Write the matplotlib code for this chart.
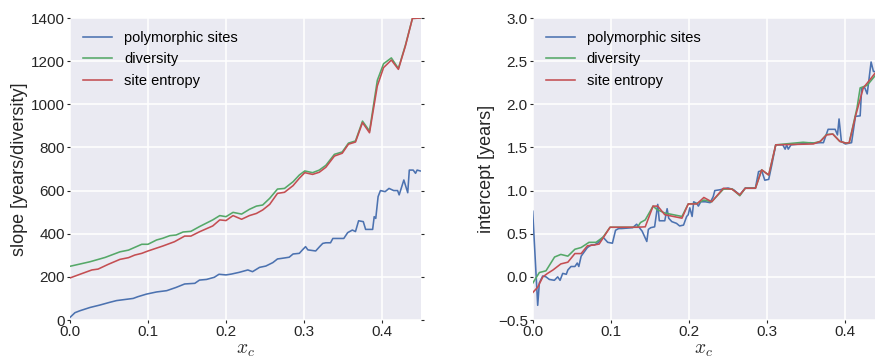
import matplotlib
matplotlib.use("Agg")
import matplotlib.pyplot as plt

# ---------------- data: left panel (slope) ----------------
slope_poly_x = [0.0, 0.0064, 0.0128, 0.0256, 0.038, 0.051, 0.0597, 0.0725, 0.081, 0.087, 0.098,
                0.111, 0.124, 0.136, 0.147, 0.16, 0.166, 0.175, 0.185, 0.191, 0.2, 0.207, 0.217,
                0.228, 0.234, 0.243, 0.251, 0.26, 0.266, 0.272, 0.281, 0.286, 0.294, 0.298, 0.302,
                0.305, 0.315, 0.32, 0.324, 0.328, 0.334, 0.337, 0.351, 0.356, 0.362, 0.366, 0.37,
                0.376, 0.379, 0.388, 0.39, 0.392, 0.395, 0.398, 0.404, 0.409, 0.415, 0.42, 0.422,
                0.426, 0.428, 0.433, 0.435, 0.44, 0.443, 0.445, 0.449]
slope_poly = [12, 34, 43, 58, 69, 82, 90, 96, 100, 108, 120,
              130, 136, 151, 167, 170, 185, 188, 198, 212, 209, 213, 221,
              232, 224, 244, 250, 266, 283, 286, 291, 306, 309, 325, 340,
              325, 320, 340, 355, 358, 358, 378, 378, 405, 417, 410, 460,
              456, 420, 420, 479, 471, 572, 600, 595, 610, 600, 600, 580,
              626, 649, 590, 695, 695, 680, 695, 691]

slope_div_x = [0.0, 0.0256, 0.045, 0.064, 0.075, 0.092, 0.1, 0.111, 0.119, 0.128, 0.136, 0.145,
               0.155, 0.166, 0.183, 0.192, 0.2, 0.209, 0.22, 0.23, 0.239, 0.247, 0.256, 0.266,
               0.275, 0.286, 0.294, 0.301, 0.311, 0.3196, 0.328, 0.339, 0.349, 0.357, 0.366,
               0.375, 0.384, 0.394, 0.402, 0.412, 0.421, 0.430, 0.439, 0.45]
slope_div = [249, 270, 290, 316, 324, 351, 351, 371, 379, 391, 394, 408,
             411, 433, 464, 484, 479, 499, 491, 513, 528, 533, 564, 607,
             610, 641, 672, 691, 683, 695, 717, 768, 779, 820, 830,
             922, 876, 1111, 1188, 1215, 1166, 1274, 1398, 1400]

slope_ent_x = [0.0, 0.0128, 0.028, 0.036, 0.049, 0.064, 0.075, 0.083, 0.092, 0.1, 0.119, 0.134,
               0.147, 0.155, 0.166, 0.183, 0.192, 0.2, 0.209, 0.22, 0.23, 0.239, 0.247, 0.256,
               0.266, 0.275, 0.286, 0.294, 0.301, 0.311, 0.3196, 0.328, 0.339, 0.349, 0.357,
               0.366, 0.375, 0.384, 0.394, 0.402, 0.412, 0.421, 0.430, 0.439, 0.45]
slope_ent = [195, 212, 232, 236, 258, 281, 289, 301, 309, 320, 343, 363,
             389, 389, 409, 436, 464, 461, 484, 467, 484, 494, 510, 536,
             587, 592, 623, 657, 683, 675, 685, 708, 760, 773, 815,
             825, 915, 868, 1085, 1170, 1205, 1162, 1270, 1398, 1400]

# ---------------- data: right panel (intercept) ----------------
int_poly_x = [0.0, 0.0064, 0.0085, 0.0128, 0.017, 0.0213, 0.0277, 0.032, 0.035, 0.0384, 0.043,
              0.045, 0.049, 0.054, 0.057, 0.059, 0.062, 0.066, 0.070, 0.075, 0.079, 0.083, 0.090,
              0.096, 0.102, 0.106, 0.110, 0.114, 0.128, 0.133, 0.14, 0.146, 0.148, 0.151, 0.156,
              0.160, 0.162, 0.169, 0.172, 0.174, 0.178, 0.184, 0.188, 0.193, 0.197, 0.199, 0.201,
              0.204, 0.206, 0.21, 0.212, 0.215, 0.221, 0.227, 0.231, 0.233, 0.240, 0.244, 0.25,
              0.257, 0.265, 0.272, 0.28, 0.285, 0.289, 0.293, 0.297, 0.302, 0.306, 0.311, 0.320,
              0.323, 0.325, 0.327, 0.3305, 0.342, 0.355, 0.361, 0.368, 0.372, 0.378, 0.387, 0.390,
              0.392, 0.395, 0.400, 0.408, 0.413, 0.419, 0.421, 0.425, 0.428, 0.433, 0.436, 0.438]
int_poly = [0.76, -0.33, -0.07, 0.01, 0.0, -0.03, -0.04, 0.0, -0.04, 0.04, 0.03,
            0.08, 0.12, 0.12, 0.16, 0.12, 0.24, 0.29, 0.34, 0.37, 0.37, 0.39, 0.46,
            0.40, 0.39, 0.54, 0.56, 0.56, 0.57, 0.61, 0.53, 0.41, 0.55, 0.57, 0.58,
            0.84, 0.65, 0.65, 0.79, 0.68, 0.64, 0.62, 0.59, 0.60, 0.70, 0.72, 0.80,
            0.70, 0.87, 0.85, 0.82, 0.87, 0.87, 0.86, 0.93, 1.0, 1.01, 1.02, 1.03,
            1.01, 0.95, 1.03, 1.03, 1.03, 1.22, 1.23, 1.12, 1.13, 1.30, 1.53, 1.53,
            1.48, 1.53, 1.48, 1.53, 1.54, 1.555, 1.55, 1.555, 1.555, 1.71, 1.71, 1.645,
            1.83, 1.57, 1.54, 1.555, 1.86, 1.866, 2.19, 2.19, 2.12, 2.49, 2.38, 2.38]

int_div_x = [0.0, 0.0085, 0.017, 0.028, 0.036, 0.045, 0.054, 0.062, 0.072, 0.081, 0.090, 0.099,
             0.134, 0.138, 0.144, 0.154, 0.159, 0.169, 0.191, 0.199, 0.210, 0.219, 0.229, 0.244,
             0.255, 0.265, 0.272, 0.285, 0.293, 0.302, 0.311, 0.346, 0.359, 0.368, 0.376, 0.384,
             0.393, 0.401, 0.405, 0.415, 0.419, 0.428, 0.438]
int_div = [-0.074, 0.05, 0.07, 0.23, 0.26, 0.24, 0.32, 0.34, 0.40, 0.40, 0.46, 0.575,
           0.575, 0.63, 0.66, 0.82, 0.78, 0.74, 0.70, 0.845, 0.85, 0.89, 0.87, 1.016,
           1.02, 0.94, 1.027, 1.027, 1.24, 1.18, 1.53, 1.56, 1.55, 1.57, 1.65, 1.655,
           1.57, 1.55, 1.555, 1.96, 2.19, 2.22, 2.33]

int_ent_x = [0.0, 0.0064, 0.013, 0.019, 0.026, 0.036, 0.045, 0.054, 0.062, 0.070, 0.079, 0.085,
             0.099, 0.134, 0.144, 0.154, 0.160, 0.169, 0.191, 0.199, 0.210, 0.219, 0.229, 0.244,
             0.255, 0.265, 0.272, 0.285, 0.293, 0.302, 0.311, 0.359, 0.368, 0.376, 0.384, 0.393,
             0.401, 0.405, 0.413, 0.423, 0.432, 0.438]
int_ent = [-0.183, -0.12, 0.0, 0.04, 0.08, 0.15, 0.17, 0.27, 0.27, 0.36, 0.37, 0.38,
           0.575, 0.575, 0.58, 0.82, 0.82, 0.72, 0.68, 0.845, 0.845, 0.92, 0.87, 1.027,
           1.016, 0.95, 1.027, 1.027, 1.24, 1.18, 1.53, 1.54, 1.57, 1.645, 1.655, 1.57,
           1.55, 1.555, 1.86, 2.19, 2.29, 2.36]

labels = ["polymorphic sites", "diversity", "site entropy"]
colors = ["#4C72B0", "#55A868", "#C44E52"]

left_yticks = [0, 200, 400, 600, 800, 1000, 1200, 1400]
right_yticks = [-0.5, 0.0, 0.5, 1.0, 1.5, 2.0, 2.5, 3.0]
xticks = [0.0, 0.1, 0.2, 0.3, 0.4]

# ---------------- style ----------------
plt.rcParams["font.family"] = ["Liberation Sans", "DejaVu Sans"]
plt.rcParams["mathtext.fontset"] = "cm"
plt.rcParams["axes.unicode_minus"] = True

fig = plt.figure(figsize=(8.75, 3.58), dpi=100)
W, H = 875.0, 358.0
ax1 = fig.add_axes([70 / W, (H - 320) / H, 351 / W, 302 / H])
ax2 = fig.add_axes([532.7 / W, (H - 320) / H, (875 - 532.7) / W, 302 / H])


def style(ax):
    ax.set_facecolor("#EAEAF2")
    for s in ax.spines.values():
        s.set_visible(False)
    ax.grid(True, color="white", linewidth=1.1)
    ax.set_axisbelow(True)
    ax.tick_params(axis="both", which="major", length=2, width=0.8, color="#262626",
                   labelsize=11, labelcolor="#262626", pad=1.5)
    ax.tick_params(axis="y", right=True)


lw = 1.15
ax1.plot(slope_poly_x, slope_poly, color=colors[0], lw=lw, label=labels[0])
ax1.plot(slope_div_x, slope_div, color=colors[1], lw=lw, label=labels[1])
ax1.plot(slope_ent_x, slope_ent, color=colors[2], lw=lw, label=labels[2])
ax1.set_xlim(0, 0.45)
ax1.set_ylim(0, 1400)
ax1.set_yticks(left_yticks)
ax1.set_xticks(xticks)
ax1.set_ylabel("slope [years/diversity]", fontsize=13, color="#262626", labelpad=2)
ax1.set_xlabel("$x_c$", fontsize=14, color="#262626", labelpad=2)
style(ax1)
ax1.legend(loc="upper left", frameon=False, fontsize=10.5, handlelength=2.0,
           labelspacing=0.5, handletextpad=0.8)

ax2.plot(int_poly_x, int_poly, color=colors[0], lw=lw, label=labels[0])
ax2.plot(int_div_x, int_div, color=colors[1], lw=lw, label=labels[1])
ax2.plot(int_ent_x, int_ent, color=colors[2], lw=lw, label=labels[2])
ax2.set_xlim(0, 0.438)
ax2.set_ylim(-0.5, 3.0)
ax2.set_yticks(right_yticks)
ax2.set_xticks(xticks)
ax2.set_ylabel("intercept [years]", fontsize=13, color="#262626", labelpad=2)
ax2.set_xlabel("$x_c$", fontsize=14, color="#262626", labelpad=2)
style(ax2)
ax2.legend(loc="upper left", frameon=False, fontsize=10.5, handlelength=2.0,
           labelspacing=0.5, handletextpad=0.8)

fig.savefig("out.png", dpi=100)
